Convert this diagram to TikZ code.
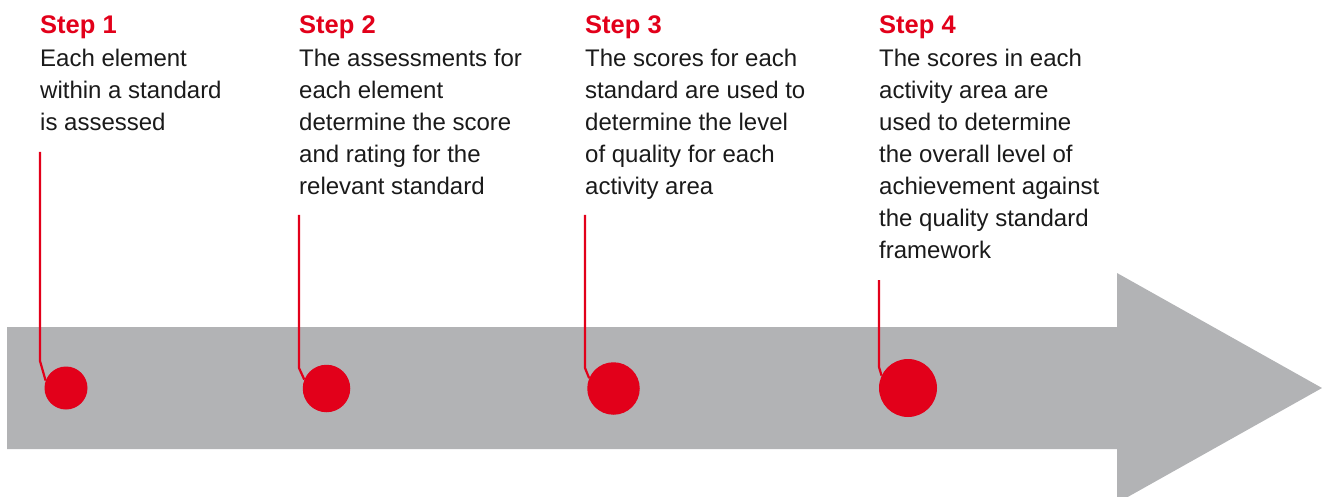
\documentclass[tikz,border=0pt]{standalone}
\usepackage{fontspec}
\setmainfont{Liberation Sans}
\definecolor{stepred}{HTML}{E2001A}
\definecolor{bandgray}{HTML}{B2B3B5}
\definecolor{bodytext}{HTML}{1A1A1A}
\newcommand{\steplines}[1]{\begin{tabular}[t]{@{}l@{}}#1\end{tabular}}
\begin{document}
\begin{tikzpicture}[x=1pt,y=-1pt,
  heading/.style={anchor=base west,inner sep=0pt,text=stepred,font=\fontsize{25.5}{30}\selectfont\bfseries},
  bodytxt/.style={anchor=base west,inner sep=0pt,text=bodytext,font=\fontsize{24}{31.86}\selectfont},
  dot/.style={circle,fill=stepred,inner sep=0pt,minimum size=#1},
  leader/.style={draw=stepred,line width=2.2pt,line join=miter}
]
\useasboundingbox (0,0) rectangle (1322,497);
\begin{scope}
\clip (0,0) rectangle (1322,497);
\fill[bandgray] (7,327) -- (1117,327) -- (1117,273) -- (1322,388) -- (1117,503) -- (1117,449) -- (7,449) -- cycle;
\end{scope}

\node[heading] (h1) at (40,34) {Step 1};
\node[bodytxt] (s1) at (40,67) {\steplines{Each element\\within a standard\\is assessed}};
\node[heading] (h2) at (299,34) {Step 2};
\node[bodytxt] (s2) at (299,67) {\steplines{The assessments for\\each element\\determine the score\\and rating for the\\relevant standard}};
\node[heading] (h3) at (585,34) {Step 3};
\node[bodytxt] (s3) at (585,67) {\steplines{The scores for each\\standard are used to\\determine the level\\of quality for each\\activity area}};
\node[heading] (h4) at (879,34) {Step 4};
\node[bodytxt] (s4) at (879,67) {\steplines{The scores in each\\activity area are\\used to determine\\the overall level of\\achievement against\\the quality standard\\framework}};

\node[dot=43pt] (d1) at (66,388) {};
\node[dot=47.5pt] (d2) at (326.5,388.5) {};
\node[dot=52.5pt] (d3) at (613.5,388.5) {};
\node[dot=58pt] (d4) at (908,388) {};

\coordinate (t1) at (40,152); \coordinate (b1) at (40,361);
\coordinate (t2) at (299,215); \coordinate (b2) at (299,368);
\coordinate (t3) at (585,215); \coordinate (b3) at (585,368);
\coordinate (t4) at (879,280); \coordinate (b4) at (879,367);

\draw[leader] (t1) -- (b1) -- (d1.160);
\draw[leader] (t2) -- (b2) -- (d2.158);
\draw[leader] (t3) -- (b3) -- (d3.157);
\draw[leader] (t4) -- (b4) -- (d4.155);
\end{tikzpicture}
\end{document}
